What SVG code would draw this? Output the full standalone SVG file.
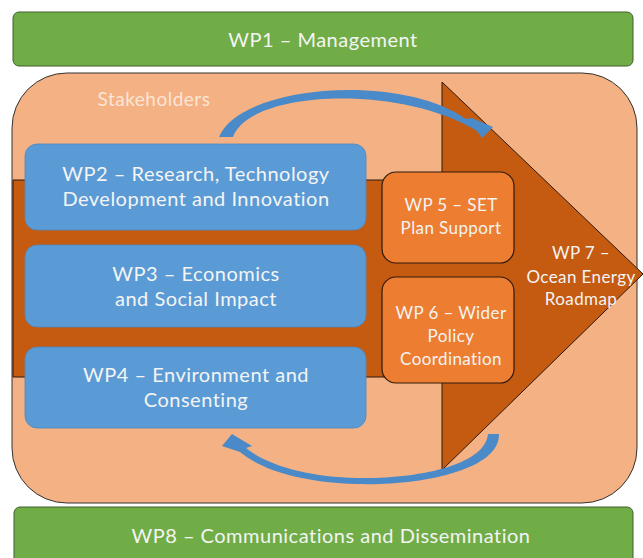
<svg xmlns="http://www.w3.org/2000/svg" width="643" height="558" viewBox="0 0 643 558">
<style>
.t{font-family:Lato,"Liberation Sans",sans-serif;fill:#F4F4F4;text-anchor:middle}
.big{font-size:20px;letter-spacing:0.5px}
.mid{font-size:17px;letter-spacing:0.4px}
.green{fill:#70AD47;stroke:#3f5f2e;stroke-width:1}
.blue{fill:#5B9BD5;stroke:#4d89c2;stroke-width:0.8}
.orange{fill:#ED7D31;stroke:#2e1a0c;stroke-width:1.2}
.curve{fill:#4A8AC8}
</style>
<rect width="643" height="558" fill="#ffffff"/>
<g id="container">
<rect x="12" y="73" width="625" height="430" rx="55" fill="#F4B183" stroke="#333" stroke-width="1"/>
<text class="t" x="154" y="106" font-size="19" letter-spacing="0.5" style="fill:#FBE5D6">Stakeholders</text>
</g>
<g id="wp7">
<polygon points="13,180 442,180 442,82 643,274 442,470 442,377 13,377" fill="#C55A11" stroke="#2a1a10" stroke-width="1"/>
<text class="t mid" x="581" y="259">WP 7 –</text>
<text class="t mid" x="581" y="283">Ocean Energy</text>
<text class="t mid" x="581" y="305">Roadmap</text>
</g>
<g id="wp1">
<rect class="green" x="13" y="12" width="620" height="54" rx="6"/>
<text class="t big" x="323" y="47">WP1 – Management</text>
</g>
<g id="wp2">
<rect class="blue" x="25" y="144" width="341" height="86" rx="12"/>
<text class="t big" x="196" y="181">WP2 – Research, Technology</text>
<text class="t big" x="196" y="206">Development and Innovation</text>
</g>
<g id="wp3">
<rect class="blue" x="25" y="245" width="341" height="82" rx="12"/>
<text class="t big" x="196" y="281">WP3 – Economics</text>
<text class="t big" x="196" y="306">and Social Impact</text>
</g>
<g id="wp4">
<rect class="blue" x="25" y="347" width="341" height="81" rx="12"/>
<text class="t big" x="196" y="382">WP4 – Environment and</text>
<text class="t big" x="196" y="407">Consenting</text>
</g>
<g id="wp5">
<rect class="orange" x="382" y="172" width="132" height="91" rx="14"/>
<text class="t mid" x="451" y="211">WP 5 – SET</text>
<text class="t mid" x="451" y="234">Plan Support</text>
</g>
<g id="wp6">
<rect class="orange" x="382" y="277" width="132" height="106" rx="14"/>
<text class="t mid" x="451" y="319">WP 6 – Wider</text>
<text class="t mid" x="451" y="342">Policy</text>
<text class="t mid" x="451" y="365">Coordination</text>
</g>
<g id="wp8">
<rect class="green" x="14" y="507" width="619" height="60" rx="6"/>
<text class="t big" x="331" y="543">WP8 – Communications and Dissemination</text>
</g>
<g id="connectors">
<path class="curve" d="M219,137 C240,85 400,72 466,119 L472,118 L493,127 L482,138 L477,131 C400,84 250,90 233,137 Z"/>
<path class="curve" d="M499,434 C500,470 420,486 357,484 C300,482 262,470 240,452 L222,446 L232,434 L252,446 L246,448 C268,466 310,477 357,478 C420,479 485,465 488,434 Z"/>
</g>
</svg>
